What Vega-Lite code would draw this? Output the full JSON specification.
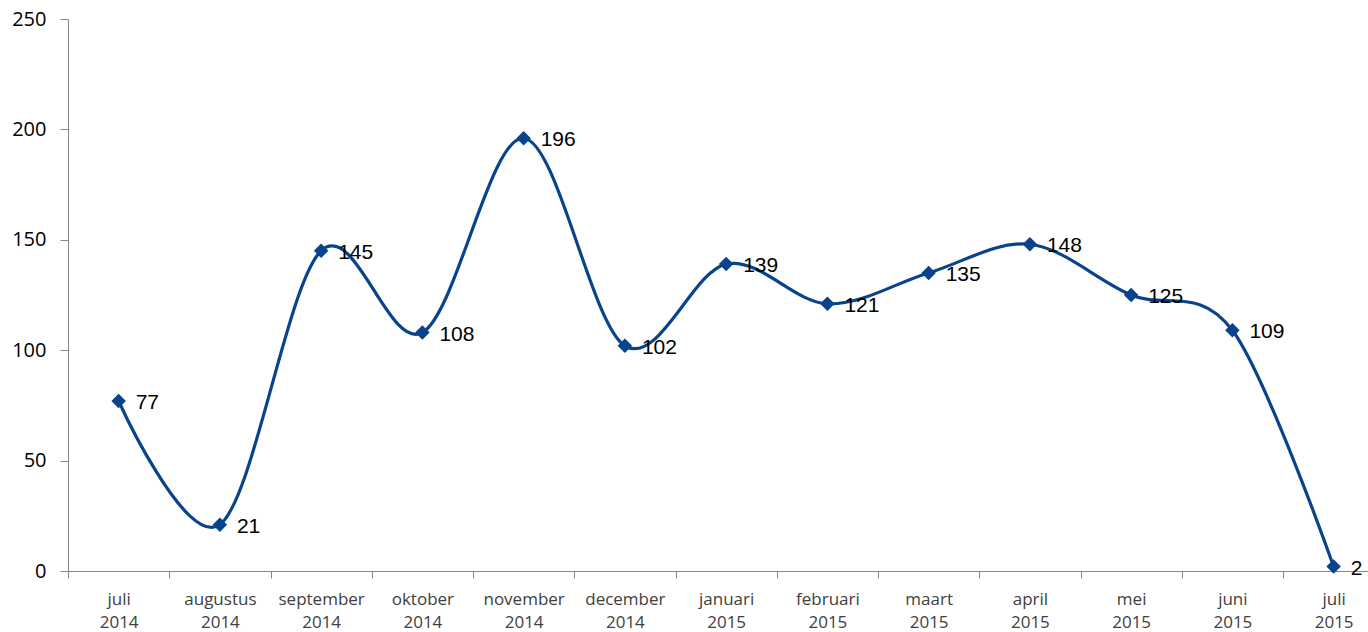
{
  "$schema": "https://vega.github.io/schema/vega-lite/v6.json",
  "autosize": {"type": "none"},
  "width": 1300,
  "height": 552,
  "padding": {"left": 68, "top": 19, "right": 0, "bottom": 61},
  "background": "white",
  "config": {"view": {"stroke": null}},
  "data": {
    "values": [
      {"maand": "juli 2014", "aantal": 77},
      {"maand": "augustus 2014", "aantal": 21},
      {"maand": "september 2014", "aantal": 145},
      {"maand": "oktober 2014", "aantal": 108},
      {"maand": "november 2014", "aantal": 196},
      {"maand": "december 2014", "aantal": 102},
      {"maand": "januari 2015", "aantal": 139},
      {"maand": "februari 2015", "aantal": 121},
      {"maand": "maart 2015", "aantal": 135},
      {"maand": "april 2015", "aantal": 148},
      {"maand": "mei 2015", "aantal": 125},
      {"maand": "juni 2015", "aantal": 109},
      {"maand": "juli 2015", "aantal": 2}
    ]
  },
  "encoding": {
    "x": {
      "field": "maand",
      "type": "nominal",
      "sort": null,
      "scale": {"type": "band", "paddingInner": 0, "paddingOuter": 0, "range": [0, 1316.25]},
      "axis": {
        "title": null,
        "labelAngle": 0,
        "labelExpr": "split(datum.label, ' ')",
        "labelFont": "Open Sans",
        "labelFontSize": 17,
        "labelColor": "#404040",
        "labelLineHeight": 23,
        "labelPadding": 13,
        "labelBaseline": "top",
        "tickBand": "extent",
        "tickSize": 7,
        "tickColor": "#868686",
        "domainColor": "#868686",
        "labelOverlap": false
      }
    },
    "y": {
      "field": "aantal",
      "type": "quantitative",
      "scale": {"domain": [0, 250], "nice": false},
      "axis": {
        "title": null,
        "values": [0, 50, 100, 150, 200, 250],
        "grid": false,
        "labelFont": "Open Sans",
        "labelFontSize": 20,
        "labelColor": "#000000",
        "labelPadding": 14,
        "tickSize": 8,
        "tickColor": "#868686",
        "domainColor": "#868686"
      }
    }
  },
  "layer": [
    {
      "mark": {"type": "line", "interpolate": "cardinal", "color": "#08438C", "strokeWidth": 3.2}
    },
    {
      "mark": {"type": "point", "shape": "diamond", "filled": true, "size": 210, "color": "#08438C", "opacity": 1}
    },
    {
      "mark": {"type": "text", "align": "left", "baseline": "middle", "dx": 17, "dy": 2, "font": "Liberation Sans", "fontSize": 21, "color": "#000000"},
      "encoding": {"text": {"field": "aantal", "type": "quantitative"}}
    }
  ]
}
